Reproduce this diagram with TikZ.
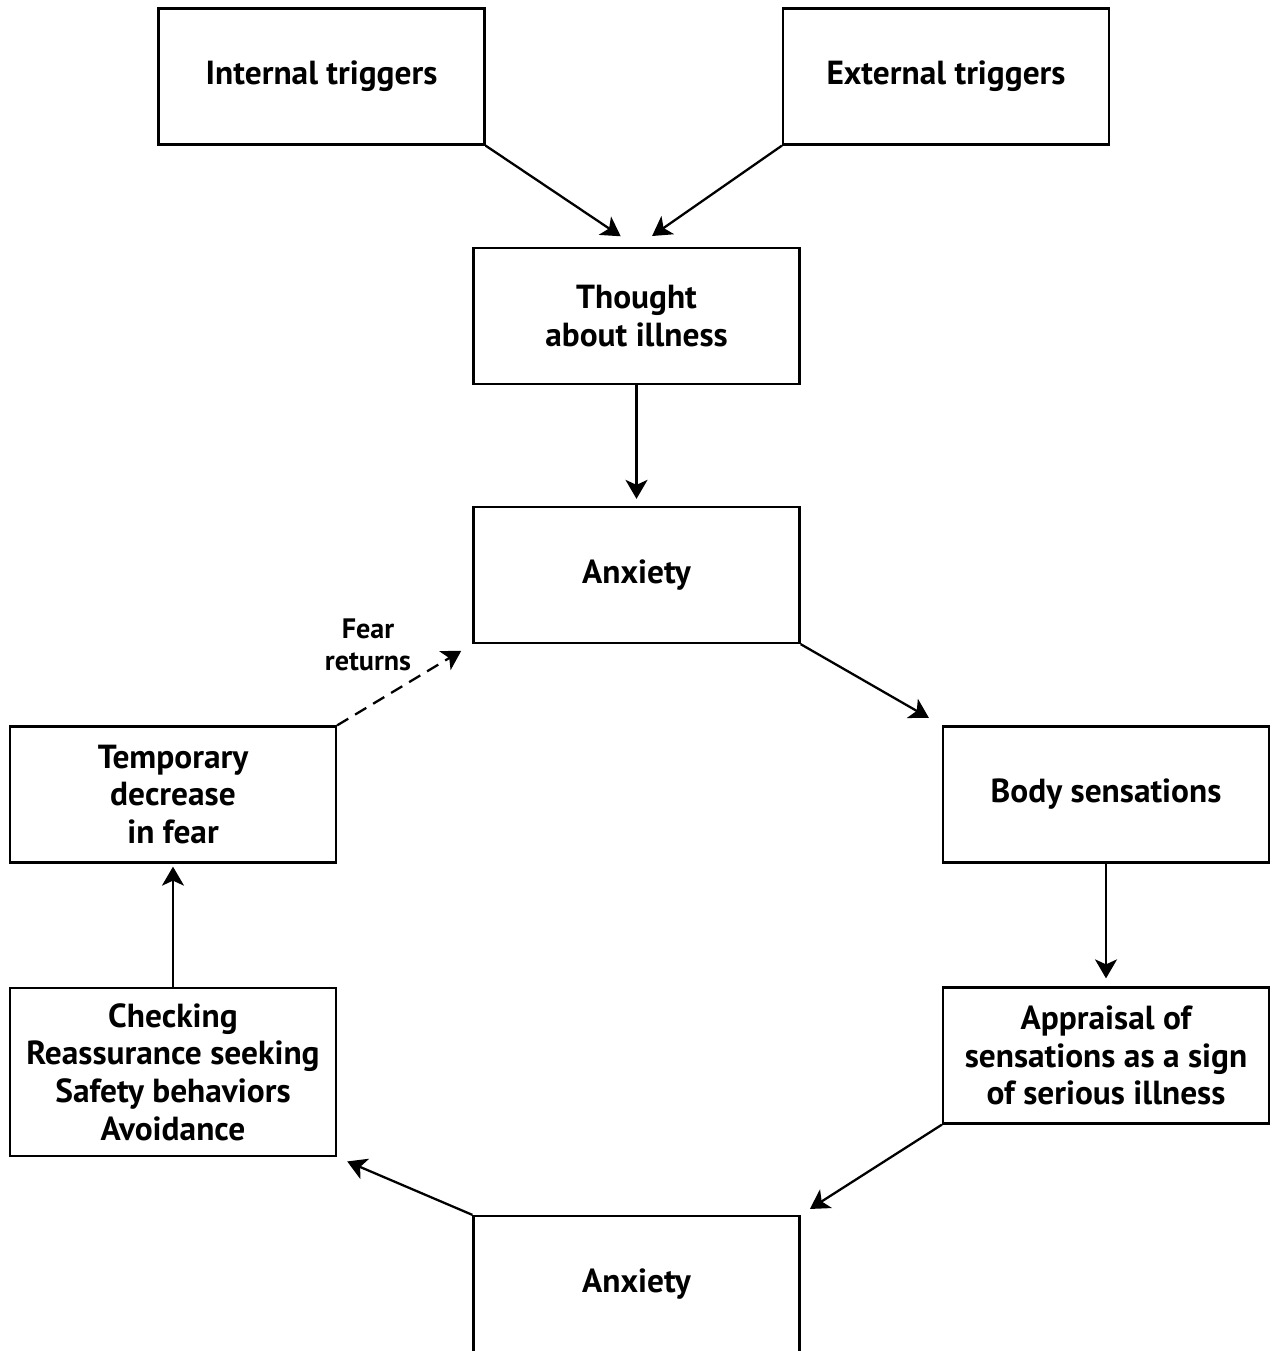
\documentclass[tikz,border=0pt]{standalone}
\usepackage{fontspec}
\setmainfont{PT Sans}
\usetikzlibrary{arrows.meta}

\begin{document}
\begin{tikzpicture}[x=0.02cm,y=-0.02cm,
	box/.style={draw,line width=1.3pt,minimum width=6.52cm,minimum height=2.72cm,align=center,font=\fontsize{19}{21.5}\selectfont\bfseries},
	link/.style={-{Stealth[length=0.38cm,width=0.44cm,inset=0.1cm]},line width=1.3pt}]
	\useasboundingbox (0,0) rectangle (1271,1351);

	\node[box] (intr) at (321.5,76.5) {Internal triggers};
	\node[box] (extr) at (946,76.5) {External triggers};
	\node[box] (thought) at (636.5,316) {Thought\\about illness};
	\node[box] (anxa) at (636.5,575) {Anxiety};
	\node[box] (body) at (1106,794.5) {Body sensations};
	\node[box] (appr) at (1106,1055.5) {Appraisal of\\sensations as a sign\\of serious illness};
	\node[box] (anxb) at (636.5,1284) {Anxiety};
	\node[box,minimum height=3.36cm] (check) at (173,1072) {Checking\\Reassurance seeking\\Safety behaviors\\Avoidance};
	\node[box] (temp) at (173,794.5) {Temporary\\decrease\\in fear};
	\node[align=center,font=\fontsize{16}{18}\selectfont\bfseries] (fear) at (368,645) {Fear\\returns};

	\draw[link,shorten >=0.38cm] (intr.south east) -- (thought.north);
	\draw[link,shorten >=0.38cm] (extr.south west) -- (thought.north);
	\draw[link,shorten >=0.14cm] (thought.south) -- (anxa.north);
	\draw[link,shorten >=0.3cm] (anxa.south east) -- (body.north west);
	\draw[link,shorten >=0.16cm] (body.south) -- (appr.north);
	\draw[link,shorten >=0.22cm] (appr.south west) -- (anxb.north east);
	\draw[link,shorten >=0.22cm] (anxb.north west) -- (check.south east);
	\draw[link,shorten >=0.06cm] (check.north) -- (temp.south);
	\draw[link,dashed,dash pattern=on 0.26cm off 0.16cm,shorten >=0.26cm] (temp.north east) -- (anxa.south west);

\end{tikzpicture}
\end{document}
